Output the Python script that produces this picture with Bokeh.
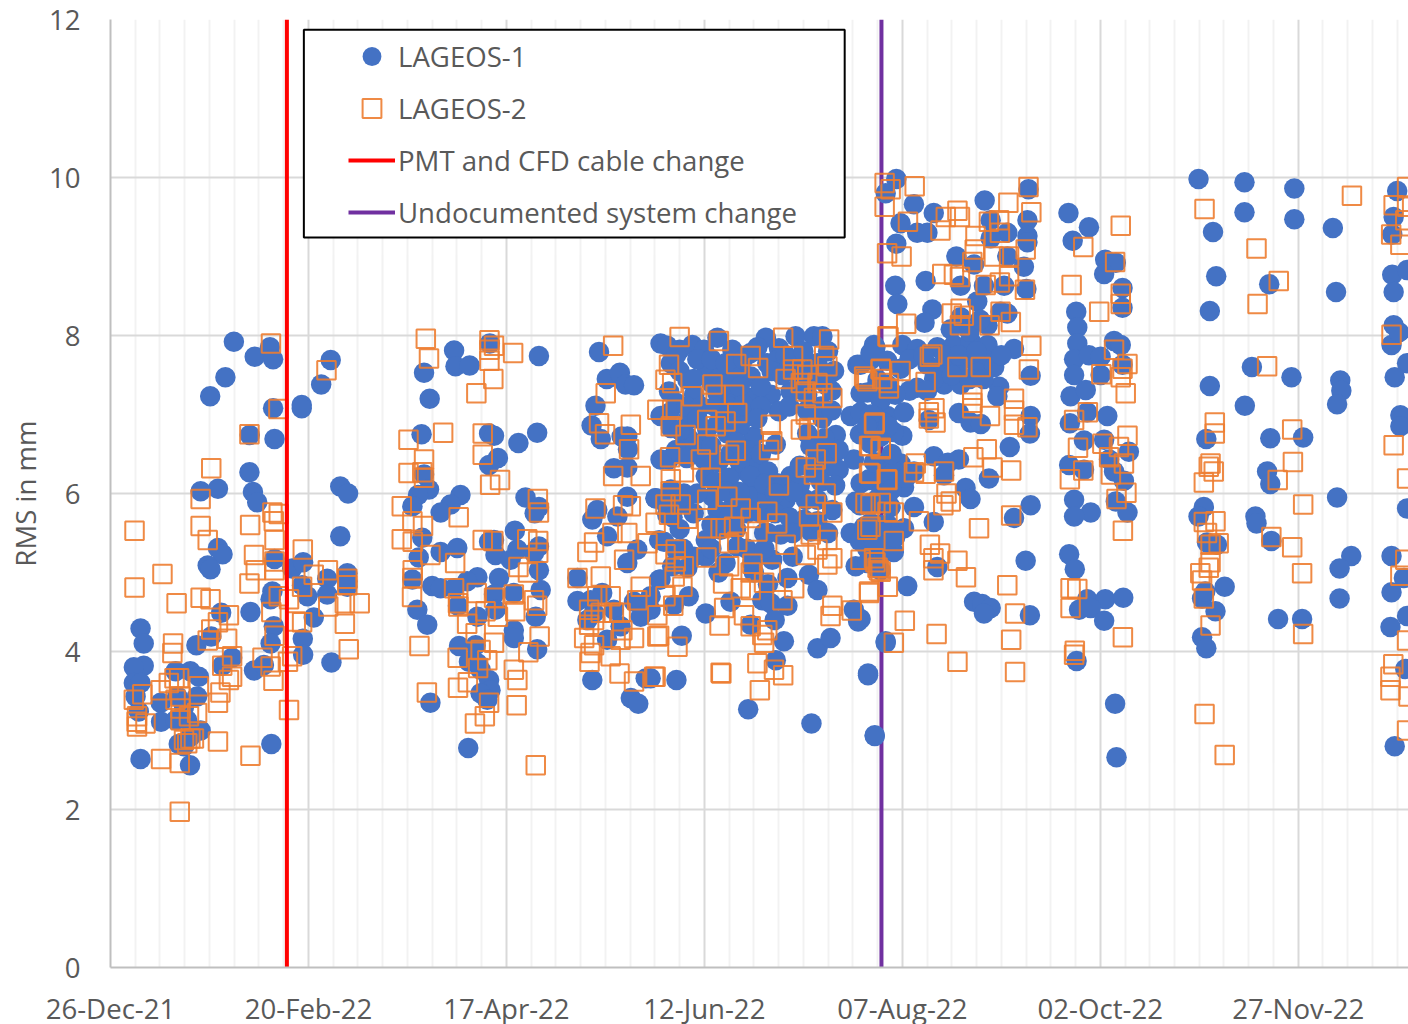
from bokeh.plotting import figure
from bokeh.models import FixedTicker, Legend, LegendItem, BoxAnnotation, Range1d
from bokeh.embed import file_html
from bokeh.resources import INLINE

FONT = "Open Sans"
TEXT = "#595959"

# (days since 26-Dec-21, RMS in mm)
lageos1 = [
(34.9,7.92),(40.8,7.73),(45.1,7.85),(46,7.70),(62.3,7.69),(32.5,7.47),(59.6,7.38),(28.2,7.23),(46,7.08),(54.1,7.12),(54.1,7.08),
(39.4,6.74),(46.4,6.69),(39.3,6.27),(25.5,6.03),(30.4,6.06),(40.3,6.02),(41.5,5.89),(65,6.09),(67.2,6.0),(65,5.46),(30.4,5.31),
(31.7,5.23),(27.5,5.09),(28.3,5.04),(46.4,5.17),(51.4,5.05),(54.5,5.13),(61.3,4.92),(67,4.99),(67,4.89),(67,4.82),(45.8,4.76),
(54.2,4.84),(45.3,4.66),(55.7,4.7),(61.3,4.72),(31.3,4.49),(39.6,4.5),(57.5,4.43),(46.2,4.32),(8.5,4.29),(9.4,4.1),(28.5,4.19),
(24.3,4.08),(45.3,4.1),(54.4,4.16),(54.5,3.96),(62.5,3.86),(9.4,3.82),(6.6,3.8),(34.4,3.92),(31.6,3.82),(40.6,3.76),(43.4,3.83),
(18.4,3.75),(22.6,3.75),(25,3.68),(6.6,3.6),(8.5,3.6),(7.1,3.43),(14.2,3.35),(8,3.24),(14.3,3.11),(18.9,3.43),(20.8,3.3),(24.5,3.43),
(25.5,3.0),(19.3,2.83),(20.8,2.8),(45.5,2.83),(8.5,2.64),(22.5,2.56),(22.6,2.92),(18.4,3.13),(21.7,3.13),
(97.2,7.81),(97.6,7.61),(101.6,7.62),(88.7,7.53),(90.3,7.2),(107.3,7.9),(121.2,7.74),(138.2,7.79),(140.4,7.45),(144.1,7.53),(145.7,7.38),
(148.1,7.37),(137.2,7.11),(136.1,6.86),(138.7,6.69),(144.6,6.72),(146.2,6.72),(146.4,6.56),(142.4,6.32),(146.2,6.33),(88,6.75),(107.1,6.76),
(108.5,6.73),(115.4,6.64),(120.7,6.77),(109.6,6.45),(107.1,6.36),(88.7,6.24),(90.1,6.05),(87,5.98),(85.4,5.84),(99,5.98),(96.2,5.86),(93.4,5.76),
(117.4,5.95),(121.2,5.83),(120,5.75),(146.2,5.96),(154.2,5.94),(137.7,5.79),(136.3,5.67),(88.2,5.44),(87.2,5.19),(85.4,4.91),(93.4,5.26),(98.1,5.31),
(108.5,5.41),(107.1,5.39),(108.9,5.22),(114.4,5.53),(115.1,5.29),(121.2,5.33),(119.8,5.25),(121.2,5.03),(113.2,5.16),(103.8,4.94),(100.9,4.89),
(109.9,4.93),(91,4.83),(93.4,4.8),(97.2,4.8),(98.3,4.58),(86.8,4.53),(89.6,4.34),(103.8,4.44),(108.5,4.72),(108.9,4.53),(114.1,4.74),(121.7,4.78),
(120.3,4.44),(114.1,4.27),(114.1,4.17),(120.7,4.03),(98.6,4.07),(103.3,4.08),(101.4,3.87),(103.8,3.85),(104.7,3.77),(107.1,3.64),(107.5,3.51),
(104.7,3.47),(106.6,3.39),(90.5,3.35),(101.2,2.78),(132.1,4.93),(132.1,4.64),(136.3,3.64),(147.2,3.41),(149.3,3.34),(151.4,3.66),(140.5,4.15),
(136.8,4.49),(142.4,4.53),(148.1,4.63),(150,4.44),(155.6,4.91),(146.2,5.12),(149,5.29),(140.5,5.46),(143.4,5.71),(155.2,5.41),(144.3,4.32),
(139.1,4.74),(134.9,4.4),(135.8,4.65),(155.6,7.9),(155.6,6.98),(155.6,6.43),
(157.5,7.87),(164.6,7.88),(161,7.82),(167.9,7.82),(171.7,7.97),(175.9,7.82),(181.1,7.78),(185.4,7.97),(189.1,7.84),(193.8,7.99),(199,7.99),(201.4,7.99),
(204.7,7.55),(211.3,7.63),(216,7.88),(215,7.69),(158.5,7.65),(163.2,7.44),(168.8,7.57),(172.6,7.48),(176.4,7.57),(181.1,7.48),(185.8,7.65),(188.6,7.69),
(193.4,7.65),(200,7.65),(158,7.29),(165.1,7.25),(171.7,7.27),(176.4,7.25),(181.1,7.21),(186.8,7.25),(192.4,7.29),(197.1,7.25),(202.8,7.36),(212.2,7.27),
(217,7.44),(158,7.02),(163.2,6.93),(158.5,6.83),(163.2,6.72),(180.2,6.98),(189.1,7.04),(209.4,6.98),(201.4,6.95),(205.2,6.74),(197.1,6.76),(216,6.89),
(219.8,6.98),(217.9,6.72),(175.4,6.98),(168.8,6.81),(174.5,6.76),(182,6.72),(188.2,6.62),(167,6.64),(158,6.43),(167.9,6.43),(175.4,6.51),(183,6.38),
(202.8,6.51),(210.3,6.43),(200,6.43),(217.9,6.38),(168.4,6.22),(178.3,6.3),(188.6,6.13),(192.4,6.22),(199,6.26),(212.2,6.13),(214.6,6.17),(182,6.09),
(202.8,6.34),(158.5,6.05),(162.2,6.0),(154.2,5.94),(157,5.88),(162.2,5.88),(157.5,5.73),(170.3,5.96),(171.7,5.79),(176.4,5.88),(181.1,5.96),(185.8,5.96),
(191,5.92),(196.7,5.92),(200,5.92),(204.2,5.79),(210.8,5.9),(215,5.88),(219.8,5.96),(196.2,5.67),(198.1,5.52),(156.6,5.39),(159.9,5.29),(168.4,5.41),
(172.6,5.54),(177.3,5.33),(189.6,5.48),(209.4,5.5),(213.2,5.58),(218.8,5.25),(184.9,5.5),(158.9,5.08),(163.2,5.06),(155.2,4.91),(168.4,5.2),(174,5.12),
(181.6,5.12),(187.2,5.16),(191.5,4.93),(197.6,4.97),(200,4.78),(210.8,5.08),(214.1,5.12),(217.9,5.03),(163.6,4.7),(159.4,4.59),(175.4,4.63),(184.4,4.65),
(186.8,4.61),(191.5,4.58),(168.4,4.48),(152.8,4.7),(152.8,4.53),(187.9,4.4),(181.1,4.34),(210.3,4.53),(211.5,4.38),(161.6,4.2),(190.5,4.13),(200,4.04),
(203.7,4.17),(219.3,4.11),(188.2,3.89),(160.1,3.64),(152.8,3.66),(214.3,3.7),(180.4,3.27),(198.3,3.09),(216.2,2.93),
(222.3,9.98),(219.3,9.8),(227.3,9.66),(223.5,9.42),(228.2,9.3),(231.1,9.3),(232.9,9.55),(222.3,9.16),(247.3,9.71),(259.7,9.85),(259.4,9.46),(259.4,9.26),
(259.4,9.18),(249,9.46),(253.7,9.3),(249,9.23),(239.3,9.0),(244.3,8.9),(253.7,9.0),(258.4,8.87),(259.1,8.59),(230.6,8.69),(222,8.63),(222.6,8.4),(240.5,8.63),
(247.1,8.63),(245.2,8.43),(252.8,8.63),(253.7,8.28),(232.5,8.33),(230.3,8.16),(237.7,8.08),(240.5,8.23),(248.1,8.13),(251.8,8.3),(216.4,7.85),(224,7.88),
(228.2,7.83),(233.9,7.85),(238.6,7.88),(243.3,7.93),(248.1,7.88),(255.6,7.83),(219.7,7.68),(212.2,7.63),(215,7.78),(223.5,7.58),(231.1,7.63),(235.8,7.63),
(239.6,7.6),(244.3,7.68),(248.1,7.68),(228.2,7.34),(235.8,7.38),(240.5,7.38),(245.2,7.53),(260.3,7.49),(251.4,7.35),(250.9,7.23),(219.7,7.38),(214.1,7.28),
(217.9,7.18),(224.5,7.03),(231.5,6.93),(216,6.98),(212.2,7.03),(218.8,6.9),(224,6.73),(240,7.02),(243.3,6.9),(246.2,6.88),(260.3,6.98),(260.1,6.76),(254.4,6.59),
(221.6,6.78),(215,6.63),(223.5,6.38),(232.9,6.47),(236.9,6.39),(240,6.43),(221.6,6.28),(214.6,6.18),(218.8,6.18),(227.3,6.28),(235.8,6.23),(248.5,6.19),
(241.9,6.07),(243.3,5.93),(224.5,6.08),(227.3,5.83),(216.9,5.93),(220.7,5.83),(260.3,5.85),(255.6,5.69),(232.9,5.64),(224.5,5.56),(215,5.63),(217.9,5.43),
(221.6,5.26),(214.1,5.3),(233.9,5.07),(258.9,5.15),(216.9,5.05),(225.4,4.83),(212.2,4.41),(219.3,4.13),(214.3,3.72),(216.2,2.94),(244.3,4.63),(246.6,4.6),
(249,4.55),(247.1,4.48),(260.1,4.46),
(271,9.55),(276.8,9.37),(272.2,9.2),(281.4,8.96),(284.4,8.92),(281.1,8.78),(286.3,8.6),(286.3,8.35),(273.2,8.3),(273.5,8.1),(273.5,7.9),(272.6,7.7),(276.8,7.75),
(280.1,7.73),(283.9,7.93),(285.8,7.88),(272.6,7.5),(280.1,7.5),(286.3,7.63),(271.6,7.23),(275.9,7.31),(271.4,6.89),(276.3,7.03),(282,6.98),(275.4,6.67),(281.1,6.68),
(288.1,6.53),(271.2,6.36),(275.4,6.3),(282.5,6.43),(283.9,6.28),(286.7,6.16),(272.6,5.92),(277.3,5.76),(272.6,5.71),(284.4,5.9),(287.7,5.76),(271.2,5.23),(272.8,5.04),
(276.3,4.66),(281.4,4.66),(286.5,4.68),(274,4.53),(277.3,4.55),(281.1,4.39),(273.3,3.88),(284.2,3.34),(284.6,2.66),
(307.8,9.98),(320.8,9.94),(334.9,9.86),(320.8,9.56),(334.9,9.47),(345.8,9.36),(311.9,9.31),(312.8,8.75),(327.8,8.65),(346.7,8.55),(311,8.31),(322.9,7.6),(334.1,7.47),
(311,7.36),(347.9,7.43),(348.2,7.3),(347,7.13),(320.9,7.11),(310,6.69),(328.1,6.7),(337.4,6.71),(327.2,6.28),(328.1,6.12),(347,5.95),(309.3,5.83),(307.8,5.71),
(323.9,5.71),(324.2,5.62),(328.4,5.4),(310.2,5.38),(313,5.35),(351,5.21),(347.7,5.05),(315.2,4.82),(308.8,4.67),(309.7,4.76),(312.6,4.51),(347.7,4.67),(330.3,4.41),
(337.1,4.41),(308.8,4.18),(310,4.04),
(364,9.83),(363,9.5),(362.6,9.28),(362.6,8.77),(366.8,8.83),(363,8.55),(363,8.13),(362.4,7.88),(364.5,8.04),(366.8,7.65),(363.3,7.47),(364.9,6.99),(364.9,6.85),
(366.8,5.81),(362.4,5.21),(365.9,4.93),(362.4,4.75),(362.1,4.31),(366.3,3.78),(363.3,2.8),(366.8,4.45),
]

# points estimated inside the solid blue mass, where single markers cannot be told apart
lageos1_dense = [
(160,7.75),(166,7.7),(170,7.7),(174,7.65),(179,7.7),(183,7.85),(187,7.55),(191,7.75),(196,7.8),(197,7.55),(203,7.8),
(161,7.55),(165,7.45),(170,7.4),(174,7.38),(178,7.35),(184,7.35),(190,7.5),(195,7.45),(200,7.45),(204,7.3),
(160,7.15),(163,7.1),(167,7.1),(171,7.1),(175,7.1),(179,7.12),(184,7.1),(192,7.1),(197,7.05),(201,7.1),(204,7.05),
(166,6.95),(172,6.9),(178,6.85),(183,6.95),(161,6.8),(165,6.6),(170,6.6),(177,6.65),(180,6.55),(184,6.5),(198,6.6),(202,6.7),(206,6.55),(212,6.75),
(160,6.55),(163,6.45),(172,6.4),(178,6.4),(186,6.28),(195,6.35),(206,6.3),(171,6.15),(175,6.2),(181,6.22),(185,6.12),(195,6.1),(201,6.15),(205,6.1),
(166,6),(174,6.03),(178,6.02),(188,6),(193,6.02),(159,5.7),(165,5.75),(175,5.7),(180,5.75),(184,5.75),(188,5.75),(192,5.7),(200,5.65),(161,5.55),(170,5.6),
(177,5.55),(186,5.5),(193,5.5),(203,5.5),(216,5.6),(212,5.85),(165,5.2),(162,5.3),(170,5.3),(180,5.3),(185,5.3),(193,5.2),(182,5.0),(186,4.85),(172,5.0),(212,5.4),(216,5.4),
(226,7.7),(230,7.75),(236,7.75),(240,7.75),(245,7.8),(250,7.6),(252,7.75),(243,8.05),(246,8.2),(233,7.45),(238,7.5),(243,7.45),(247,7.45),(226,7.3),(231,7.3),(222,7.25),
(217,7.4),(215,7.0),(220,6.85),(214,6.85),(216,6.4),(221,6.5),(218,6.0),(221,6.05),(225,6.2),(220,5.6),(222,5.45),(215,5.85),(218,5.6),(214,5.55),
]

lageos2 = [
(6.8,5.53),(6.8,4.81),(14.7,4.98),(18.7,4.61),(45.4,7.9),(61.1,7.56),(47.5,7.07),(39.3,6.75),(28.5,6.32),(25.5,5.93),(39.5,5.6),(25.5,5.59),(45.8,5.76),(47.6,5.74),
(46.2,5.65),(46.4,5.41),(27.5,5.41),(40.6,5.22),(54.4,5.29),(41.1,5.03),(46.4,5.14),(46.4,5.03),(39.3,4.86),(61.5,5.03),(57.5,4.97),(67,4.92),(67,4.84),(66.3,4.61),
(70.5,4.61),(61.6,4.57),(54.2,4.82),(47.6,4.7),(50.5,4.66),(45.5,4.5),(25.5,4.68),(28.3,4.66),(33.5,4.46),(30.4,4.37),(28.5,4.28),(27.5,4.14),(33,4.16),(17.7,4.1),
(17.5,3.98),(66.3,4.35),(54.2,4.37),(52.4,4.38),(46.4,4.2),(67.4,4.03),(34.4,3.94),(31.6,3.82),(43,3.92),(45.3,3.81),(51.4,3.94),(50.2,3.87),(34.4,3.68),(33.5,3.64),
(46.1,3.63),(31.1,3.48),(30.4,3.35),(30.4,2.86),(50.5,3.26),(14.3,2.64),(19.6,2.59),(39.6,2.68),(19.6,1.97),(9,3.46),(6.6,3.39),(7.5,3.18),(7.5,3.05),(9.9,3.09),(7.4,3.11),
(14.2,3.51),(18.1,3.66),(19.4,3.66),(16.5,3.6),(25,3.56),(19.8,3.43),(18.4,3.39),(24.5,3.22),(19.8,3.13),(22.2,3.18),(20.8,2.88),(22.6,2.9),(23.6,2.9),(21.7,2.84),(19.8,3.28),
(89.2,7.96),(90.1,7.71),(107.2,7.94),(108.5,7.87),(107.2,7.82),(107.2,7.68),(113.9,7.78),(108.3,7.45),(103.5,7.27),(94.1,6.77),(84.3,6.68),(105.3,6.76),(105.3,6.49),
(88.7,6.43),(84.3,6.26),(88.2,6.27),(88.7,6.2),(110.2,6.17),(107.4,6.11),(120.9,5.93),(121.2,5.76),(82.4,5.84),(85.4,5.65),(88.4,5.59),(82.4,5.42),(85.5,5.39),(98.5,5.7),
(105.3,5.41),(108.3,5.4),(117.9,5.42),(121,5.4),(121,5.25),(90.5,5.22),(97.5,5.12),(85.5,5.03),(85.4,4.93),(85.3,4.69),(97.2,4.8),(115.4,5.07),(118.1,5.0),(103.6,4.74),
(108.5,4.68),(114.1,4.72),(119.8,4.65),(120.7,4.58),(98.3,4.61),(98.4,4.57),(114.5,4.51),(109.6,4.44),(106.1,4.51),(100.9,4.35),(121.4,4.19),(108.5,4.11),(103.3,4.23),
(118.2,3.99),(87.4,4.07),(98.2,3.92),(104.7,4.02),(106.6,3.89),(104,3.79),(114.1,3.77),(115.1,3.64),(101.1,3.61),(98.3,3.54),(89.5,3.48),(107.1,3.35),(114.9,3.32),
(105.9,3.18),(103.1,3.09),(120.3,2.56),
(142.2,7.87),(140.1,7.27),(154.7,7.06),(138.2,6.89),(147.2,6.87),(139.9,6.75),(146.7,6.56),(142.2,6.22),(150,6.22),(137.2,5.81),(145,5.85),(147.2,5.84),(154.2,5.63),(142,5.5),
(146.2,5.5),(136.8,5.38),(134.9,5.26),(151.9,5.37),(145.3,5.16),(132.1,4.93),(138.7,4.95),(150,4.82),(149,4.65),(137.7,4.7),(141.5,4.7),(135.4,4.53),(138.7,4.49),(135.4,4.34),
(134,4.17),(144.8,4.27),(148.1,4.17),(136.8,4.08),(154.7,4.19),(135.8,3.98),(135.5,3.87),(141.5,3.94),(144,3.72),(148.1,3.62),(153.8,3.68),(136.8,4.4),(142.4,4.49),(144.3,4.49),(144.3,4.15),
(161,7.98),(172.1,7.93),(177,7.64),(181.1,7.74),(183.2,7.59),(190.3,7.97),(203.3,7.95),(193.1,7.74),(193.1,7.57),(195.7,7.57),(201.9,7.74),(202.8,7.61),(191,7.45),(197.1,7.5),
(195.3,7.4),(200,7.4),(196.7,7.29),(199,7.21),(204.2,7.21),(201.4,7.27),(158,7.63),(157,7.44),(158.9,7.4),(170.3,7.38),(171.2,7.25),(176.4,7.25),(164.6,7.23),(213.2,7.48),
(214.1,7.42),(217.9,7.57),(220.2,7.4),(219.8,7.99),(158.9,7.06),(158.5,6.85),(162.7,6.74),(168.8,6.93),(171.2,6.85),(177.3,7.02),(174,6.91),(186.8,6.87),(216,6.88),(196.7,7),
(197.6,6.83),(195.3,6.81),(200,6.83),(168.8,6.62),(176.9,6.54),(175,6.49),(187.2,6.66),(186.3,6.55),(167,6.43),(158.3,6.46),(215,6.6),(217.9,6.56),(202.6,6.51),(199.5,6.43),
(196.7,6.33),(162.2,6.27),(214.6,6.26),(219.8,6.17),(169.8,6.2),(199,6.24),(158.5,6.18),(158.5,6.03),(189.1,6.1),(168.8,5.92),(174.5,5.96),(178.3,5.81),(202.3,6.0),(199.5,5.86),
(204.2,5.76),(157,5.86),(161.3,5.86),(158,5.73),(163.2,5.68),(215,5.86),(219.8,5.77),(197.6,5.71),(185.8,5.77),(181.1,5.69),(188.6,5.62),(176.4,5.58),(168.8,5.56),(172.6,5.56),
(183,5.52),(177.3,5.39),(175,5.37),(214.1,5.54),(198.1,5.48),(202.8,5.41),(191,5.35),(196.7,5.22),(200,5.29),(204.2,5.18),(202.8,5.1),(212.2,5.16),(216,5.18),(159.9,5.29),(157,5.23),
(159.9,5.14),(162.2,5.08),(159.6,4.95),(168.6,5.19),(175,5.08),(181.6,5.11),(186.8,5.0),(181.1,5),(217,5.06),(217.9,5.01),(161.8,4.82),(173.3,4.86),(178.3,4.8),(184.9,4.87),
(181.1,4.78),(193.4,4.8),(190.1,4.65),(157,4.7),(159.2,4.58),(214.6,4.74),(204.2,4.58),(203.7,4.45),(209.7,4.52),(173.6,4.55),(179.2,4.46),(172.3,4.33),(154.7,4.46),(155.2,4.2),
(160.4,4.06),(181.1,4.32),(185.8,4.27),(184.4,4.21),(184.9,4.11),(183,3.85),(187.7,3.77),(190.3,3.7),(172.6,3.73),(172.8,3.72),(183.7,3.51),(154.2,3.68),
(219,9.93),(220.7,9.85),(219,9.63),(227.5,9.89),(259.7,9.88),(254,9.68),(239.6,9.58),(260.5,9.56),(240.3,9.5),(236.3,9.5),(225.6,9.44),(234.8,9.33),(251.4,9.46),(248.5,9.44),
(251.6,9.3),(244.7,9.26),(244.5,9.09),(219.7,9.04),(223.8,9),(249.9,9.0),(254.2,9.0),(258.9,9.09),(243.8,8.93),(235.3,8.78),(238.6,8.77),(240.3,8.74),(247.6,8.64),(251.6,8.67),
(254.2,8.75),(258.7,8.58),(271.9,8.64),(275.2,9.12),(284.2,8.93),(285.8,9.39),(285.8,8.53),(285.8,8.4),(279.7,8.3),(225.1,8.15),(220.1,7.98),(238,8.28),(240.5,8.34),(241.4,8.25),
(240.3,8.13),(248.7,8.13),(251.8,8.3),(254.7,8.17),(260.5,7.87),(259.8,7.57),(283.9,7.82),(287.7,7.64),(286.3,7.58),(285.8,7.47),(280.3,7.51),(287.2,7.27),(232.5,7.76),(231.8,7.73),
(223.5,7.55),(217.9,7.58),(239.6,7.6),(246.2,7.6),(230.6,7.41),(213.6,7.45),(218.3,7.45),(220.2,7.33),(243.8,7.24),(243.8,7.15),(243.8,7.08),(255.6,7.2),(255.6,7.05),(255.6,6.87),
(248.8,6.98),(259.4,6.84),(233.1,7.08),(231.5,7.03),(231.5,6.95),(233.4,6.9),(216.2,6.9),(272.6,6.93),(276.5,7.03),(280.6,6.63),(273.7,6.58),(282.5,6.46),(287.7,6.73),(285.3,6.59),
(286.7,6.38),(283,6.24),(275.2,6.29),(271.4,6.18),(287.4,6.01),(284.6,5.93),(286.4,5.53),(247.9,6.56),(244.1,6.46),(249.5,6.33),(254.8,6.29),(227.8,6.38),(235.8,6.28),(227.3,6.27),
(230.6,6.25),(219.6,6.18),(215,6.25),(217.9,6.58),(214.6,6.6),(236.5,6.0),(237.7,5.9),(235.6,5.85),(254.8,5.72),(228.7,5.65),(221.6,5.76),(245.7,5.56),(217.9,5.88),(213.6,5.88),
(215,5.58),(221.6,5.4),(231.8,5.35),(234.7,5.24),(232.8,5.18),(232.8,5.03),(239.6,5.15),(242,4.94),(253.7,4.84),(217.4,5.03),(216.4,5.13),(219.9,4.82),(214.6,4.76),(255.9,4.48),
(224.7,4.39),(233.7,4.22),(221.6,4.11),(254.8,4.15),(239.6,3.87),(255.9,3.74),(271.6,4.8),(273.5,4.79),(271.6,4.55),(272.8,4.01),(272.6,3.96),(286.4,4.18),
(351.2,9.77),(309.5,9.6),(324.2,9.1),(330.5,8.69),(324.5,8.4),(327.2,7.61),(334.3,6.81),(334.5,6.4),(330.2,6.17),(337.4,5.86),(328.4,5.45),(334.3,5.32),(337.1,4.99),(337.4,4.22),
(312.4,6.9),(312.4,6.76),(311.2,6.38),(310.7,6.34),(312.1,6.28),(309.3,6.14),(312.6,5.65),(309.3,5.64),(310.2,5.5),(313.5,5.37),(311.2,5.35),(311.2,5.13),(310.7,5.06),(308.3,4.99),
(308.8,4.9),(309.3,4.67),(311.2,4.33),(309.5,3.21),(315.2,2.69),
(366.8,9.88),(363,9.65),(366.8,9.63),(366.3,9.46),(362.3,9.28),(364.9,9.15),(362.4,8.01),(363,6.61),(366.8,6.19),(366.3,5.16),(364.9,4.96),(366.8,4.14),(362.9,3.84),(362.1,3.68),
(362.1,3.51),(367.2,3.43),(366.8,3.0),
]

tick_days = [0, 56, 112, 168, 224, 280, 336]
tick_labels = ["26-Dec-21", "20-Feb-22", "17-Apr-22", "12-Jun-22", "07-Aug-22", "02-Oct-22", "27-Nov-22"]
minor_days = [d for d in range(7, 371, 7) if d % 56]
rms_ticks = [0, 2, 4, 6, 8, 10, 12]
cable_change_day = 49.9
system_change_day = 218.1

p = figure(frame_width=1298, frame_height=948, output_backend="svg", toolbar_location=None,
           x_range=Range1d(0, 367.2), y_range=Range1d(0, 12),
           min_border_left=110, min_border_right=0, min_border_top=19, min_border_bottom=56,
           outline_line_color=None, background_fill_color="white")

p.xaxis.ticker = FixedTicker(ticks=tick_days)
p.xaxis.major_label_overrides = dict(zip(tick_days, tick_labels))
p.yaxis.ticker = FixedTicker(ticks=rms_ticks)
p.yaxis.axis_label = "RMS in mm"
for ax in (p.xaxis[0], p.yaxis[0]):
    ax.axis_line_color = "#BFBFBF"
    ax.axis_line_width = 2
    ax.major_tick_line_color = None
    ax.minor_tick_line_color = None
    ax.major_label_text_font = FONT
    ax.major_label_text_font_size = "27.6px"
    ax.major_label_text_color = TEXT
p.xaxis.major_label_standoff = 15
p.yaxis.major_label_standoff = 24
p.yaxis.axis_label_text_font = FONT
p.yaxis.axis_label_text_font_size = "27.6px"
p.yaxis.axis_label_text_font_style = "normal"
p.yaxis.axis_label_text_color = TEXT
p.yaxis.axis_label_standoff = 2

p.xgrid.ticker = FixedTicker(ticks=tick_days, minor_ticks=minor_days)
p.xgrid.grid_line_color = "#D9D9D9"
p.xgrid.grid_line_width = 2
p.xgrid.minor_grid_line_color = "#F2F2F2"
p.xgrid.minor_grid_line_width = 2
p.ygrid.ticker = FixedTicker(ticks=rms_ticks)
p.ygrid.grid_line_color = "#D9D9D9"
p.ygrid.grid_line_width = 2

all_blue = lageos1 + lageos1_dense
purple = p.line([system_change_day] * 2, [0, 12], line_color="#7030A0", line_width=4)
blue = p.scatter([d for d, _ in all_blue], [v for _, v in all_blue], marker="circle", size=20.5,
                 fill_color="#4472C4", line_color=None)
orange = p.scatter([d for d, _ in lageos2], [v for _, v in lageos2], marker="square", size=18.5,
                   fill_color=None, line_color="#ED7D31", line_width=2, line_alpha=0.9)
red = p.line([cable_change_day] * 2, [0, 12], line_color="#FF0000", line_width=4)

p.add_layout(BoxAnnotation(left=54.7, right=207.7, bottom=9.24, top=11.87, fill_color="white", fill_alpha=1,
                           line_color="black", line_alpha=1, line_width=2, level="overlay"))
legend = Legend(items=[LegendItem(label="LAGEOS-1", renderers=[blue]),
                       LegendItem(label="LAGEOS-2", renderers=[orange]),
                       LegendItem(label="PMT and CFD cable change", renderers=[red]),
                       LegendItem(label="Undocumented system change", renderers=[purple])],
                location=(238, 730), padding=0, margin=0, spacing=2, glyph_width=47, glyph_height=50,
                label_height=50, label_standoff=3, label_text_font=FONT, label_text_font_size="27.6px",
                label_text_color=TEXT, border_line_color=None, background_fill_color=None,
                background_fill_alpha=0, level="overlay")
p.add_layout(legend, "center")

open("out.html", "w").write(file_html(p, INLINE))
